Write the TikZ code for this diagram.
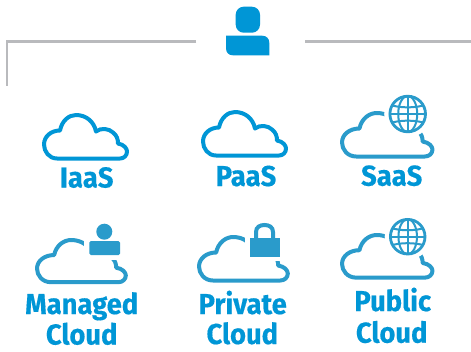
\documentclass[tikz,border=0pt]{standalone}
\usepackage{fontspec}
\setmainfont[BoldFeatures={FakeBold=0.35,FakeStretch=0.95}]{Fira Sans}
\definecolor{hpblue}{HTML}{0096D6}
\definecolor{softblue}{HTML}{2A9BCB}
\definecolor{rulegray}{HTML}{B9BABD}
\tikzset{
  rulegrayline/.style={draw=rulegray,line width=2.4pt},
  cloudline/.style={line width=4pt,line join=round},
  softcloud/.style={cloudline,draw=softblue},
  label/.style={anchor=base,text=hpblue,font=\fontsize{28.8}{30}\selectfont\bfseries,inner sep=0pt},
  globeline/.style={draw=softblue,line width=2pt},
}
% #1 = style, #2,#3 = top-left of the centre line, #4,#5 = x and y factors
\newcommand{\cloudshape}[5]{%
  \begin{scope}[shift={(#2,#3)},xscale=#4,yscale=#5]
    \path[#1] (13,43.5) .. controls (5,43.5) and (0,36.5) .. (0,29.5)
      .. controls (0,21.5) and (7,15.5) .. (16,15.5)
      .. controls (18,5.5) and (25,0) .. (32,0)
      .. controls (42,0) and (50,6.5) .. (52,16.5)
      .. controls (57,12.5) and (65,13.5) .. (69,17.5)
      .. controls (73,20.5) and (74,24.5) .. (74,28.5)
      .. controls (80,29.5) and (83,33.5) .. (83,36.5)
      .. controls (83,40.5) and (80,43.5) .. (76,43.5) -- cycle;
  \end{scope}}
\newcommand{\globeicon}[3]{%
  \begin{scope}[shift={(#1,#2)}]
    \fill[white] (0,0) circle (#3+4.5);
    \draw[globeline,line width=2.8pt] (0,0) circle (#3-1.2);
    \clip (0,0) circle (#3-1.2);
    \draw[globeline] (-#3,0) -- (#3,0) (0,-#3) -- (0,#3);
    \draw[globeline] (0,0) ellipse ({0.5*#3} and {#3-1});
    \draw[globeline] (-#3,{-0.5*#3}) .. controls (-8,{-0.3*#3}) and (8,{-0.3*#3}) .. (#3,{-0.5*#3});
    \draw[globeline] (-#3,{0.5*#3}) .. controls (-8,{0.3*#3}) and (8,{0.3*#3}) .. (#3,{0.5*#3});
  \end{scope}}
\begin{document}
\begin{tikzpicture}[x=1pt,y=-1pt]
\useasboundingbox (0,0) rectangle (471,351);
\fill[white] (0,0) rectangle (471,351);
% top rule
\coordinate (ruleA) at (196,41.3);
\coordinate (ruleB) at (7,41.3);
\coordinate (ruleC) at (7,86);
\coordinate (ruleD) at (305,41.3);
\coordinate (ruleE) at (471,41.3);
\draw[rulegrayline] (ruleA) -- (ruleB) -- (ruleC);
\draw[rulegrayline] (ruleD) -- (ruleE);
% top person
\fill[hpblue,rounded corners=8pt] (235.7,6.7) rectangle (260,32.7);
\fill[hpblue] (226,35.7) -- (262,35.7) .. controls (266.5,35.7) and (269.3,38.5) .. (269.3,43)
  -- (269.3,55.3) -- (233,55.3) .. controls (228.5,55.3) and (226,52.5) .. (226,48) -- cycle;
% plain clouds
\cloudshape{cloudline,draw=hpblue}{44}{115}{1}{1}
\cloudshape{cloudline,draw=hpblue}{203}{112}{1}{1}
% SaaS
\cloudshape{softcloud}{342}{113}{1.09}{1}
\globeicon{407.7}{114}{19}
% Managed
\cloudshape{softcloud}{37}{240}{1.07}{0.97}
\fill[white] (84,215) rectangle (125,259.5);
\fill[softblue] (104.3,231.7) circle (8);
\fill[softblue,rounded corners=1.5pt] (89.3,241) rectangle (120,255);
% Private
\cloudshape{softcloud}{199}{237}{1.07}{1}
\fill[white] (245,218) rectangle (284,260.5);
\draw[softblue,line width=4pt] (256,240) -- (256,232) .. controls (256,227) and (260,225) .. (264.5,225) .. controls (269,225) and (273,227) .. (273,232) -- (273,240);
\fill[softblue] (250,238.3) rectangle (280,256.7);
% Public
\cloudshape{softcloud}{342}{235}{1.09}{0.98}
\globeicon{407.7}{236.7}{18.5}
% labels
\node[label] (iaas) at (86.7,187.5) {IaaS};
\node[label] (paas) at (246,186) {PaaS};
\node[label] (saas) at (391.7,185.7) {SaaS};
\node[label] (managed) at (81.7,314) {Managed};
\node[label] (cloudA) at (81.7,344.5) {Cloud};
\node[label] (private) at (242.7,314) {Private};
\node[label] (cloudB) at (242.3,344) {Cloud};
\node[label] (public) at (392.7,311) {Public};
\node[label] (cloudC) at (391.7,342.7) {Cloud};
\end{tikzpicture}
\end{document}
